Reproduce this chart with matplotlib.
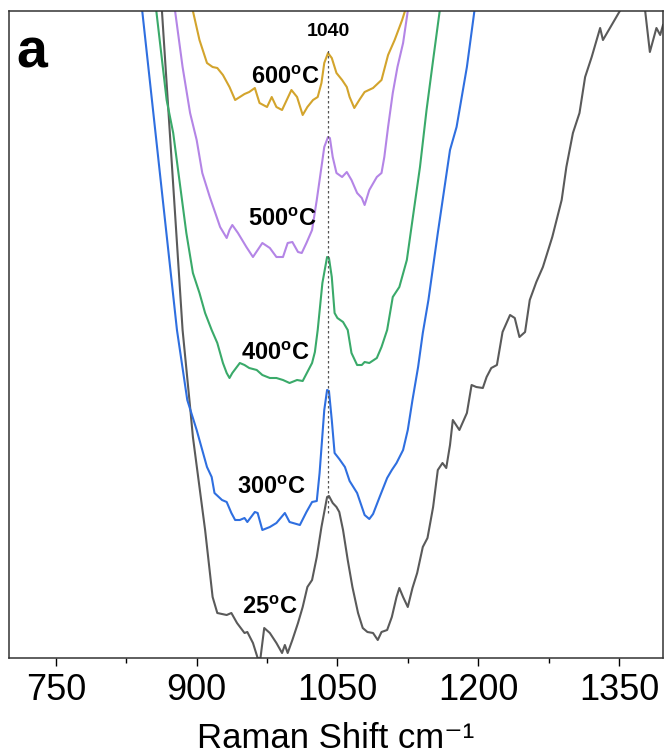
import matplotlib
matplotlib.use("Agg")
import matplotlib.pyplot as plt
from matplotlib.ticker import MultipleLocator

# Raman spectra (intensity in arbitrary units)
wn_25 = [855, 863, 885, 893, 896, 909, 917, 922, 932, 937, 943, 951, 954, 960, 965, 968,
         972, 978, 985, 991, 994, 997, 1002, 1008, 1013, 1018, 1023, 1028, 1033, 1039,
         1041, 1045, 1049, 1052, 1056, 1061, 1066, 1072, 1077, 1082, 1088, 1093, 1097,
         1103, 1108, 1113, 1116, 1120, 1125, 1130, 1135, 1141, 1146, 1152, 1157, 1162,
         1166, 1170, 1173, 1180, 1188, 1193, 1198, 1205, 1209, 1214, 1220, 1226, 1234,
         1239, 1244, 1250, 1255, 1262, 1269, 1279, 1289, 1294, 1301, 1308, 1314, 1321,
         1330, 1333, 1351, 1364, 1378, 1383, 1390, 1394, 1397]
int_25 = [678, 647, 328, 251, 221, 128, 61, 45, 43, 45, 35, 25, 26, 15, 0, 0,
          30, 25, 15, 5, 13, 5, 18, 35, 51, 71, 78, 101, 131, 161,
          162, 155, 151, 146, 128, 98, 71, 45, 30, 26, 25, 18, 26,
          28, 41, 61, 70, 61, 51, 70, 85, 111, 120, 151, 188, 195,
          190, 213, 238, 228, 245, 273, 271, 270, 281, 290, 293, 326, 343,
          340, 321, 326, 358, 376, 391, 421, 458, 491, 525, 545, 581, 601,
          630, 618, 647, 673, 647, 606, 630, 623, 633]

wn_300 = [834, 842, 879, 890, 900, 911, 916, 919, 927, 932, 937, 941, 946, 951, 954, 962,
          965, 970, 978, 985, 994, 999, 1010, 1017, 1023, 1028, 1031, 1036, 1039, 1041,
          1044, 1047, 1052, 1058, 1063, 1071, 1079, 1084, 1088, 1095, 1103, 1108, 1113,
          1120, 1125, 1130, 1136, 1141, 1147, 1157, 1170, 1177, 1188, 1196, 1202]
int_300 = [678, 647, 328, 258, 228, 191, 181, 165, 158, 156, 145, 138, 138, 140, 136, 146,
           145, 128, 131, 135, 145, 136, 133, 146, 156, 157, 185, 248, 268, 267,
           238, 205, 199, 191, 177, 165, 143, 139, 144, 161, 180, 188, 195,
           208, 228, 258, 291, 325, 358, 425, 508, 531, 591, 647, 678]

wn_400 = [850, 857, 868, 875, 882, 889, 896, 903, 909, 916, 922, 928, 932, 935, 938, 946,
          951, 956, 964, 970, 978, 985, 992, 999, 1007, 1013, 1018, 1023, 1026, 1029,
          1034, 1039, 1041, 1044, 1047, 1050, 1056, 1061, 1065, 1071, 1076, 1079, 1084,
          1092, 1097, 1103, 1109, 1116, 1124, 1130, 1138, 1145, 1152, 1159, 1164]
int_400 = [678, 647, 558, 525, 475, 425, 385, 365, 345, 328, 315, 295, 285, 280, 285, 295,
           293, 290, 288, 283, 280, 280, 278, 275, 278, 277, 286, 295, 306, 328,
           375, 401, 400, 381, 345, 340, 336, 328, 305, 293, 293, 296, 295,
           300, 311, 328, 361, 371, 398, 438, 491, 548, 598, 647, 678]

wn_500 = [871, 877, 885, 893, 900, 906, 914, 925, 932, 935, 938, 944, 953, 960, 965, 970,
          978, 985, 992, 997, 1002, 1008, 1012, 1017, 1023, 1028, 1033, 1036, 1040, 1042,
          1045, 1049, 1055, 1060, 1065, 1071, 1076, 1079, 1084, 1092, 1097, 1100, 1104,
          1109, 1114, 1120, 1125, 1129]
int_500 = [678, 647, 591, 545, 518, 485, 461, 431, 420, 428, 433, 425, 411, 401, 408, 415,
           410, 401, 401, 415, 416, 406, 405, 415, 428, 458, 491, 511, 521, 520,
           501, 485, 481, 486, 478, 465, 460, 453, 468, 481, 485, 501, 531,
           565, 591, 615, 647, 678]

wn_600 = [893, 896, 903, 911, 917, 922, 928, 935, 941, 946, 951, 956, 962, 967, 975, 980,
          985, 991, 996, 1001, 1007, 1013, 1018, 1024, 1029, 1033, 1036, 1040, 1044, 1049,
          1055, 1060, 1063, 1068, 1074, 1079, 1088, 1097, 1104, 1111, 1119, 1122, 1125]
int_600 = [678, 647, 618, 595, 591, 590, 583, 571, 558, 561, 564, 566, 570, 555, 551, 561,
           551, 548, 558, 568, 561, 543, 551, 558, 561, 575, 595, 605, 600, 585,
           578, 571, 561, 550, 559, 566, 570, 578, 603, 618, 638, 647, 678]

temps = ["25", "300", "400", "500", "600"]
colors = ["#5a5a5a", "#2f6fe0", "#3aaa6a", "#b485e6", "#d3a42c"]
label_x = [978, 980, 984, 991, 995]
label_y = [50, 171, 304, 438, 581]

peak = 1040
peak_line = (145, 608)
xticks = [750, 900, 1050, 1200, 1350]

plt.rcParams["font.family"] = ["Liberation Sans", "DejaVu Sans"]
plt.rcParams["mathtext.fontset"] = "custom"
plt.rcParams["mathtext.rm"] = "Liberation Sans"
plt.rcParams["mathtext.bf"] = "Liberation Sans:bold"

fig = plt.figure(figsize=(6.65, 7.56), dpi=100)
ax = fig.add_axes([9 / 665, 98 / 756, 654 / 665, 647 / 756])

series = [(wn_25, int_25), (wn_300, int_300), (wn_400, int_400),
          (wn_500, int_500), (wn_600, int_600)]
for (x, y), c in zip(series, colors):
    ax.plot(x, y, color=c, lw=1.5)

ax.vlines(peak, peak_line[0], peak_line[1], colors="#555555", linestyles=(0, (2, 2)), lw=0.9)
ax.text(peak, 626, str(peak), ha="center", va="center", fontsize=14, fontweight="bold")

for t, lx, ly in zip(temps, label_x, label_y):
    ax.text(lx, ly, t + r"$^{\mathbf{o}}$C", ha="center", va="center",
            fontsize=17, fontweight="bold")

ax.text(0.012, 0.975, "a", transform=ax.transAxes, ha="left", va="top",
        fontsize=40, fontweight="bold")

ax.set_xlim(700, 1397)
ax.set_ylim(0, 647)
ax.set_xticks(xticks)
ax.xaxis.set_minor_locator(MultipleLocator(75))
ax.set_yticks([])
ax.tick_params(axis="x", which="major", direction="out", length=6, width=1,
               labelsize=26, pad=5)
ax.tick_params(axis="x", which="minor", direction="out", length=3.5, width=1)
ax.set_xlabel("Raman Shift cm\u207b\u00b9", fontsize=25, labelpad=10)
for s in ax.spines.values():
    s.set_color("#333333")
    s.set_linewidth(1.1)

fig.savefig("out.png", dpi=100)
